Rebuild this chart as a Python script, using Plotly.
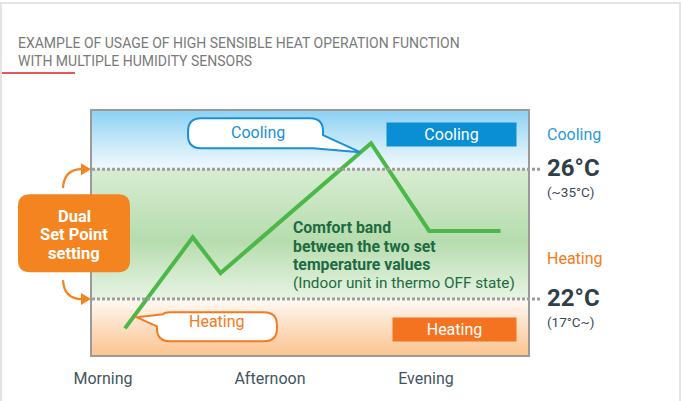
import plotly.graph_objects as go

# ---------------- data ----------------
time_hours = [9.68, 11.78, 12.64, 17.30, 19.10, 21.31]
room_temp = [21.1, 23.9, 22.8, 26.8, 24.1, 24.1]
tick_positions = [9.0, 14.17, 19.0]
tick_labels = ["Morning", "Afternoon", "Evening"]
cooling_setpoint = 26
heating_setpoint = 22
cooling_note = "(~35°C)"
heating_note = "(17°C~)"
x_range = [8.66, 22.16]
y_range = [20.28, 27.79]

FONT = "Roboto"
BLUE = "#1a90d8"
ORANGE = "#f47a20"
GREEN = "#4cb848"


def yfrac(v):
    return (v - y_range[0]) / (y_range[1] - y_range[0])


def band(y0, y1, stops):
    xs = [x_range[0], x_range[1], x_range[1], x_range[0], x_range[0]]
    return go.Scatter(
        x=xs, y=[y0, y0, y1, y1, y0], mode="lines", line=dict(width=0),
        fill="toself",
        fillgradient=dict(type="vertical", colorscale=stops, start=y0, stop=y1),
        hoverinfo="skip", showlegend=False,
    )


fig = go.Figure()
# background bands
fig.add_trace(band(cooling_setpoint, y_range[1],
                   [[0, "#f2f9fd"], [0.5, "#c3e7f8"], [1, "#8cd1f3"]]))
fig.add_trace(band(heating_setpoint, cooling_setpoint,
                   [[0, "#e8f4e4"], [0.45, "#b6dcae"], [1, "#d8edd2"]]))
fig.add_trace(band(y_range[0], heating_setpoint,
                   [[0, "#fbc48f"], [0.6, "#fde3cc"], [1, "#fffaf5"]]))

# temperature line
fig.add_trace(go.Scatter(x=time_hours, y=room_temp, mode="lines",
                         line=dict(color=GREEN, width=4), showlegend=False,
                         hoverinfo="skip"))

shapes = []


def pix_path(path, xanchor, yanchor, xref, yref, **style):
    d = dict(type="path", path=path, xref=xref, yref=yref,
             xsizemode="pixel", ysizemode="pixel",
             xanchor=xanchor, yanchor=yanchor, layer="above")
    d.update(style)
    return d


# dotted set-point lines
for sp in (cooling_setpoint, heating_setpoint):
    shapes.append(dict(type="line", xref="paper", yref="paper", x0=0, x1=1.0275,
                       y0=yfrac(sp), y1=yfrac(sp), layer="above",
                       line=dict(color="#9d9d9d", width=3, dash="3px,2px")))

# cooling speech bubble (tail points at peak)
peak_i = room_temp.index(max(room_temp))
shapes.append(pix_path(
    "M -170,25 L -61,25 Q -48,25 -48,12 L -48,8 L -11,-9 L -58,-5 L -170,-5 "
    "Q -183,-5 -183,8 L -183,12 Q -183,25 -170,25 Z",
    time_hours[peak_i], room_temp[peak_i], "x", "y",
    fillcolor="white", line=dict(color=BLUE, width=2)))
# heating speech bubble (tail points at first point)
shapes.append(pix_path(
    "M 45,16 L 139,16 Q 152,16 152,3 L 152,0 Q 152,-13 139,-13 L 45,-13 "
    "Q 32,-13 32,0 L 32,2 L 12,11 L 38,14 Q 40,16 45,16 Z",
    time_hours[0], room_temp[0], "x", "y",
    fillcolor="white", line=dict(color=ORANGE, width=2)))

# Dual set point box
mid = (cooling_setpoint + heating_setpoint) / 2
shapes.append(pix_path(
    "M -62,40 L 26,40 Q 38,40 38,28 L 38,-26 Q 38,-38 26,-38 L -62,-38 "
    "Q -74,-38 -74,-26 L -74,28 Q -74,40 -62,40 Z",
    0, yfrac(mid), "paper", "paper",
    fillcolor="#f4841f", line=dict(width=0)))

# curved arrows
for sp, sgn in ((cooling_setpoint, -1), (heating_setpoint, 1)):
    shapes.append(pix_path(
        f"M -29,{19*sgn} Q -28,0 -10,0", 0, yfrac(sp), "paper", "paper",
        fillcolor="rgba(0,0,0,0)", line=dict(color="#f4841f", width=2.2)))
    shapes.append(pix_path(
        "M -1,0 L -11,6 L -11,-6 Z", 0, yfrac(sp), "paper", "paper",
        fillcolor="#f4841f", line=dict(width=0)))

# red underline under title
shapes.append(dict(type="line", xref="paper", yref="paper",
                   x0=(2 - 92) / 436, x1=(75 - 92) / 436, y0=1.1557, y1=1.1557,
                   line=dict(color="#e31e24", width=1.5)))
# card outline
shapes.append(dict(type="rect", xref="paper", yref="paper",
                   x0=(1 - 92) / 436, x1=(680 - 92) / 436, y0=-0.4, y1=(355 - 3) / 244,
                   line=dict(color="#e4e4e4", width=2), layer="below"))

ann = []
# bubble texts
ann.append(dict(x=time_hours[peak_i], y=room_temp[peak_i], xref="x", yref="y",
                text="Cooling", showarrow=False, xshift=-113, yshift=11,
                xanchor="center", yanchor="middle",
                font=dict(family=FONT, size=16, color=BLUE)))
ann.append(dict(x=time_hours[0], y=room_temp[0], xref="x", yref="y",
                text="Heating", showarrow=False, xshift=92, yshift=7,
                xanchor="center", yanchor="middle",
                font=dict(family=FONT, size=16, color=ORANGE)))
# solid labels in box
ann.append(dict(x=(517 - 92) / 436, y=cooling_setpoint, xref="paper", yref="y",
                xanchor="right", yanchor="middle", yshift=34.5,
                text="Cooling", showarrow=False, width=129, height=23,
                bgcolor="#0a8fd5", borderpad=0,
                font=dict(family=FONT, size=16, color="white")))
ann.append(dict(x=(517 - 92) / 436, y=heating_setpoint, xref="paper", yref="y",
                xanchor="right", yanchor="middle", yshift=-30.5,
                text="Heating", showarrow=False, width=123, height=23,
                bgcolor="#f47321", borderpad=0,
                font=dict(family=FONT, size=16, color="white")))
# comfort band text
comfort_lines = ["<b>Comfort band</b>", "<b>between the two set</b>",
                 "<b>temperature values</b>", "(Indoor unit in thermo OFF state)"]
for txt, dy, fs in zip(comfort_lines, [7, -12, -30, -49], [15.8, 15.8, 15.8, 15.3]):
    ann.append(dict(x=(291 - 92) / 436, y=mid, xref="paper", yref="y",
                    xanchor="left", yanchor="middle", yshift=dy, text=txt,
                    showarrow=False, font=dict(family=FONT, size=fs, color="#1d6b40")))
# dual set point text
for txt, dy in zip(["Dual", "Set Point", "setting"], [18, 0, -19]):
    ann.append(dict(x=0, y=mid, xref="paper", yref="y", xshift=-18, yshift=dy,
                    xanchor="center", yanchor="middle",
                    text=f"<b>{txt}</b>", showarrow=False,
                    font=dict(family=FONT, size=16.5, color="white")))
# right-side labels
rx = (547 - 92) / 436
for sp, mode_txt, col, note in ((cooling_setpoint, "Cooling", "#2a9ad8", cooling_note),
                                (heating_setpoint, "Heating", ORANGE, heating_note)):
    ann.append(dict(x=rx, y=sp, xref="paper", yref="y", xanchor="left",
                    yanchor="middle", xshift=-2,
                    yshift=35 if sp == cooling_setpoint else 41, text=mode_txt,
                    showarrow=False, font=dict(family=FONT, size=16, color=col)))
    ann.append(dict(x=rx, y=sp, xref="paper", yref="y", xanchor="left", yshift=1,
                    yanchor="middle", xshift=-2,
                    text=f"<b>{sp}°C</b>", showarrow=False,
                    font=dict(family=FONT, size=24, color="#2e3f4a")))
    ann.append(dict(x=rx, y=sp, xref="paper", yref="y", xanchor="left", yshift=-23,
                    yanchor="middle", xshift=-2,
                    text=note, showarrow=False,
                    font=dict(family=FONT, size=13.5, color="#3c4a54")))

fig.update_layout(
    width=681, height=401,
    margin=dict(l=92, r=153, t=111, b=46),
    paper_bgcolor="white", plot_bgcolor="white",
    showlegend=False,
    title=dict(text="EXAMPLE OF USAGE OF HIGH SENSIBLE HEAT OPERATION FUNCTION<br>"
                    "WITH MULTIPLE HUMIDITY SENSORS",
               x=18 / 681, xanchor="left", xref="container",
               y=1 - 48 / 401, yanchor="top", yref="container",
               font=dict(family=FONT, size=14, color="#7a7a7a")),
    shapes=shapes, annotations=ann,
    xaxis=dict(range=x_range, tickvals=tick_positions, ticktext=tick_labels,
               showgrid=False, zeroline=False, showline=True, mirror=True,
               linecolor="#9a9a9a", linewidth=2, ticks="", ticklabelstandoff=8,
               tickfont=dict(family=FONT, size=16, color="#44545e"),
               fixedrange=True),
    yaxis=dict(range=y_range, showticklabels=False, showgrid=False, zeroline=False,
               showline=True, mirror=True, linecolor="#9a9a9a", linewidth=2,
               ticks="", fixedrange=True),
)

fig.write_html("out.html", config={"displayModeBar": False},
               post_script="document.body.style.margin='0';"
                           "document.body.style.padding='0';"
                           "document.body.style.overflow='hidden';")
